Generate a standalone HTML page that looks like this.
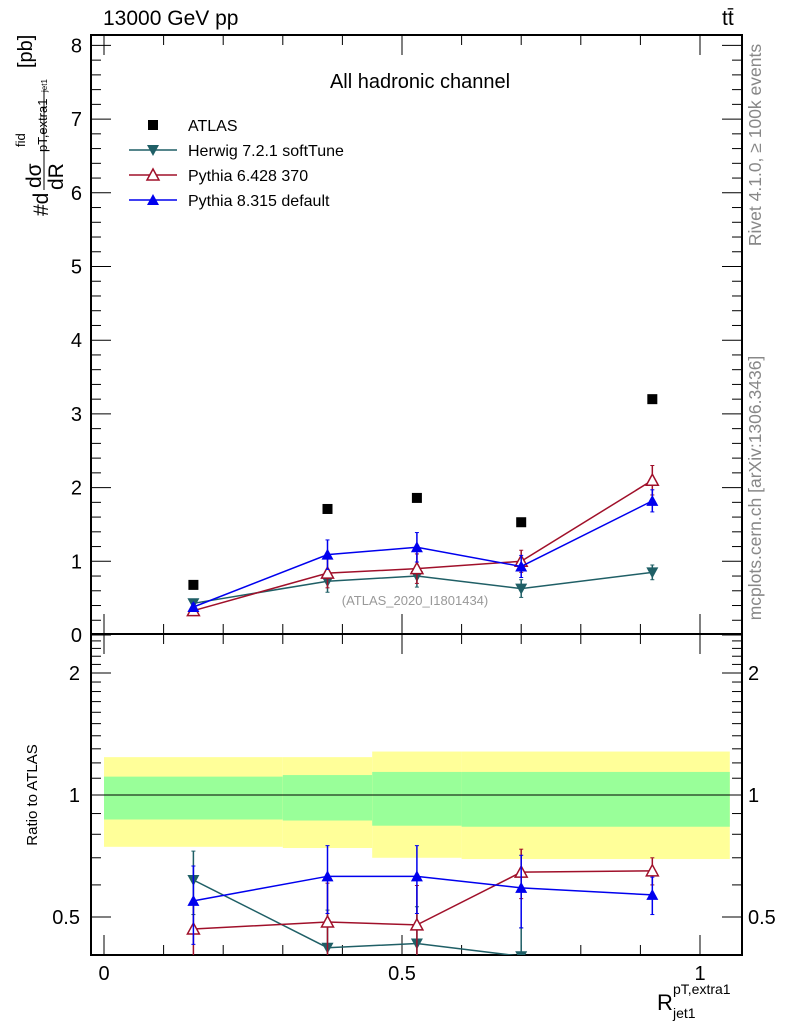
<!DOCTYPE html>
<html><head><meta charset="utf-8"><style>
body{margin:0;background:#fff;}
svg{display:block;font-family:"Liberation Sans",sans-serif;}
</style></head><body>
<svg id="chart" width="786" height="1024" viewBox="0 0 786 1024">
<defs><clipPath id="rclip"><rect x="91" y="634" width="651" height="321"/></clipPath>
<clipPath id="mclip"><rect x="91" y="35" width="651" height="599"/></clipPath></defs>
<g id="bands"></g>
<g id="axes"></g>
<g id="series"></g>
<text x="103" y="25" font-size="21">13000 GeV pp</text>
<text x="722" y="25" font-size="21">tt̄</text>
<text x="420" y="88" font-size="20" text-anchor="middle">All hadronic channel</text>
<text x="415" y="605" font-size="13" fill="#999" text-anchor="middle">(ATLAS_2020_I1801434)</text>
<text transform="translate(761,145) rotate(-90)" font-size="17.5" fill="#888" text-anchor="middle">Rivet 4.1.0, ≥ 100k events</text>
<text transform="translate(761,488) rotate(-90)" font-size="17.5" fill="#888" text-anchor="middle">mcplots.cern.ch [arXiv:1306.3436]</text>
<g transform="rotate(-90)">
<text x="-216" y="48" font-size="21">#d</text>
<text x="-188" y="41" font-size="21">dσ</text>
<text x="-147" y="25" font-size="13">fid</text>
<text x="-152" y="47" font-size="13">pT,extra1</text>
<text x="-92" y="47" font-size="8">jet1</text>
<line x1="-190" y1="44" x2="-90" y2="44" stroke="#000" stroke-width="1"/>
<text x="-190" y="63" font-size="21">dR</text>
<text x="-68" y="32" font-size="20">[pb]</text>
</g>
<text transform="translate(37,795) rotate(-90)" font-size="15" text-anchor="middle">Ratio to ATLAS</text>
<g>
<text x="657" y="1010" font-size="22">R</text>
<text x="673" y="994" font-size="14">pT,extra1</text>
<text x="673" y="1018" font-size="14">jet1</text>
</g>
<g id="legend"></g>
</svg>
<script>
const xCenters=[0.15,0.375,0.525,0.7,0.92];
const binEdges=[0,0.3,0.45,0.6,1.05];
const atlas=[0.68,1.71,1.86,1.53,3.2];
const herwig=[0.43,0.73,0.80,0.63,0.85];
const herwigErr=[0.04,0.15,0.15,0.12,0.1];
const py6=[0.33,0.84,0.90,1.00,2.10];
const py6Err=[0.04,0.2,0.2,0.15,0.2];
const py8=[0.38,1.09,1.19,0.93,1.82];
const py8Err=[0.05,0.2,0.2,0.15,0.15];
const herwigRatio=[0.617,0.42,0.43,0.40];
const herwigRatioErr=[0.11,0.1,0.1,0.07];
const py6Ratio=[0.467,0.486,0.478,0.645,0.65];
const py6RatioErr=[0.08,0.12,0.12,0.09,0.05];
const py8Ratio=[0.548,0.63,0.63,0.59,0.567];
const py8RatioErr=[0.12,0.12,0.12,0.12,0.06];
const yellowLo=[0.745,0.74,0.70,0.695],yellowHi=[1.24,1.24,1.28,1.28];
const greenLo=[0.87,0.865,0.84,0.835],greenHi=[1.11,1.12,1.14,1.14];
const yTicks=[0,1,2,3,4,5,6,7,8];
const rTicks=[0.5,1,2];
const xTicks=[0,0.5,1];

const L=91,R=742,T=35,MID=634,B=955;
const X=v=>104+v*596;
const Y=v=>635-73.7*v;
const YR=r=>795-122*Math.log2(r);
const NS='http://www.w3.org/2000/svg';
function mk(p,tag,a){const e=document.createElementNS(NS,tag);for(const k in a)e.setAttribute(k,a[k]);p.appendChild(e);return e;}
const bands=document.getElementById('bands'),axes=document.getElementById('axes'),ser=document.getElementById('series'),leg=document.getElementById('legend');

for(let i=0;i<yellowLo.length;i++){
 const r1=mk(bands,'rect',{x:X(binEdges[i]),width:X(binEdges[i+1])-X(binEdges[i]),y:YR(yellowHi[i]),height:YR(yellowLo[i])-YR(yellowHi[i]),fill:'#ffff99'});
 
 
 const r2=mk(bands,'rect',{x:X(binEdges[i]),width:X(binEdges[i+1])-X(binEdges[i]),y:YR(greenHi[i]),height:YR(greenLo[i])-YR(greenHi[i]),fill:'#99ff99'});
 
 
}
mk(axes,'line',{x1:L,x2:R,y1:YR(1),y2:YR(1),stroke:'#000','stroke-width':1});
mk(axes,'rect',{x:L,y:T,width:R-L,height:MID-T,fill:'none',stroke:'#000','stroke-width':2});
mk(axes,'rect',{x:L,y:MID,width:R-L,height:B-MID,fill:'none',stroke:'#000','stroke-width':2});
for(let v=0;v<=8.05;v+=0.2){const y=Y(v);if(y<T)continue;const maj=Math.abs(v-Math.round(v))<0.01;const len=maj?20:10;
 mk(axes,'line',{x1:L,x2:L+len,y1:y,y2:y,stroke:'#000'});mk(axes,'line',{x1:R,x2:R-len,y1:y,y2:y,stroke:'#000'});}
yTicks.forEach(v=>{const t=mk(axes,'text',{x:82,y:Y(v)+7,'font-size':20,'text-anchor':'end'});t.textContent=v;
 
 });
for(let r=0.4;r<=2.5;r+=0.1){const y=YR(r);if(y<MID||y>B)continue;const maj=rTicks.some(q=>Math.abs(q-r)<0.01);const len=maj?20:10;
 mk(axes,'line',{x1:L,x2:L+len,y1:y,y2:y,stroke:'#000'});mk(axes,'line',{x1:R,x2:R-len,y1:y,y2:y,stroke:'#000'});}
rTicks.forEach(r=>{const t=mk(axes,'text',{x:80,y:YR(r)+7,'font-size':20,'text-anchor':'end'});t.textContent=r;
 
 
 const t2=mk(axes,'text',{x:748,y:YR(r)+7,'font-size':20});t2.textContent=r;
 
 });
for(let v=0;v<=1.06;v+=0.1){const x=X(v);const maj=Math.abs(v*2-Math.round(v*2))<0.01;const len=maj?20:10;
 [T,MID].forEach(y0=>mk(axes,'line',{x1:x,x2:x,y1:y0,y2:y0+len,stroke:'#000'}));
 [MID,B].forEach(y0=>mk(axes,'line',{x1:x,x2:x,y1:y0,y2:y0-len,stroke:'#000'}));}
xTicks.forEach(v=>{const t=mk(axes,'text',{x:X(v),y:980,'font-size':20,'text-anchor':'middle'});t.textContent=v;
 
 });

function marker(g,type,x,y,c){
 if(type==='sq')mk(g,'rect',{x:x-5,y:y-5,width:10,height:10,fill:c});
 else if(type==='down')mk(g,'polygon',{points:`${x-6},${y-5} ${x+6},${y-5} ${x},${y+6}`,fill:c});
 else if(type==='up')mk(g,'polygon',{points:`${x-6},${y+5} ${x+6},${y+5} ${x},${y-6}`,fill:c});
 else if(type==='upo')mk(g,'polygon',{points:`${x-6},${y+5} ${x+6},${y+5} ${x},${y-6}`,fill:'#fff',stroke:c,'stroke-width':1.5});
}
function series(name,vals,errs,yf,color,type,line,clip){
 const g=mk(ser,'g',{'clip-path':clip});
 
 
 const pts=vals.map((v,i)=>[X(xCenters[i]),yf(v)]);
 if(line)mk(g,'polyline',{points:pts.map(p=>p.join(',')).join(' '),fill:'none',stroke:color,'stroke-width':1.5});
 if(errs)vals.forEach((v,i)=>{const x=X(xCenters[i]);const y1=yf(v+errs[i]),y2=yf(Math.max(v-errs[i],0.01));
  mk(g,'line',{x1:x,x2:x,y1:y1,y2:y2,stroke:color,'stroke-width':1.5});
  mk(g,'line',{x1:x-2,x2:x+2,y1:y1,y2:y1,stroke:color});mk(g,'line',{x1:x-2,x2:x+2,y1:y2,y2:y2,stroke:color});});
 pts.forEach(p=>marker(g,type,p[0],p[1],color));
}
series('atlas-points',atlas,null,Y,'#000','sq',false,'url(#mclip)');
series('herwig-series',herwig,herwigErr,Y,'#1f5f66','down',true,'url(#mclip)');
series('pythia6-series',py6,py6Err,Y,'#a0102a','upo',true,'url(#mclip)');
series('pythia8-series',py8,py8Err,Y,'#0000ee','up',true,'url(#mclip)');
series('herwig-ratio',herwigRatio,herwigRatioErr,YR,'#1f5f66','down',true,'url(#rclip)');
series('pythia6-ratio',py6Ratio,py6RatioErr,YR,'#a0102a','upo',true,'url(#rclip)');
series('pythia8-ratio',py8Ratio,py8RatioErr,YR,'#0000ee','up',true,'url(#rclip)');

const legNames=['ATLAS','Herwig 7.2.1 softTune','Pythia 6.428 370','Pythia 8.315 default'];
const legColors=['#000','#1f5f66','#a0102a','#0000ee'];
const legTypes=['sq','down','upo','up'];
legNames.forEach((n,i)=>{const y=125+i*25;const g=mk(leg,'g',{});
 
 
 if(i>0)mk(g,'line',{x1:129,x2:177,y1:y,y2:y,stroke:legColors[i],'stroke-width':1.5});
 marker(g,legTypes[i],153,y,legColors[i]);
 const t=mk(g,'text',{x:188,y:y+6,'font-size':16});t.textContent=n;});
</script>
</body></html>
